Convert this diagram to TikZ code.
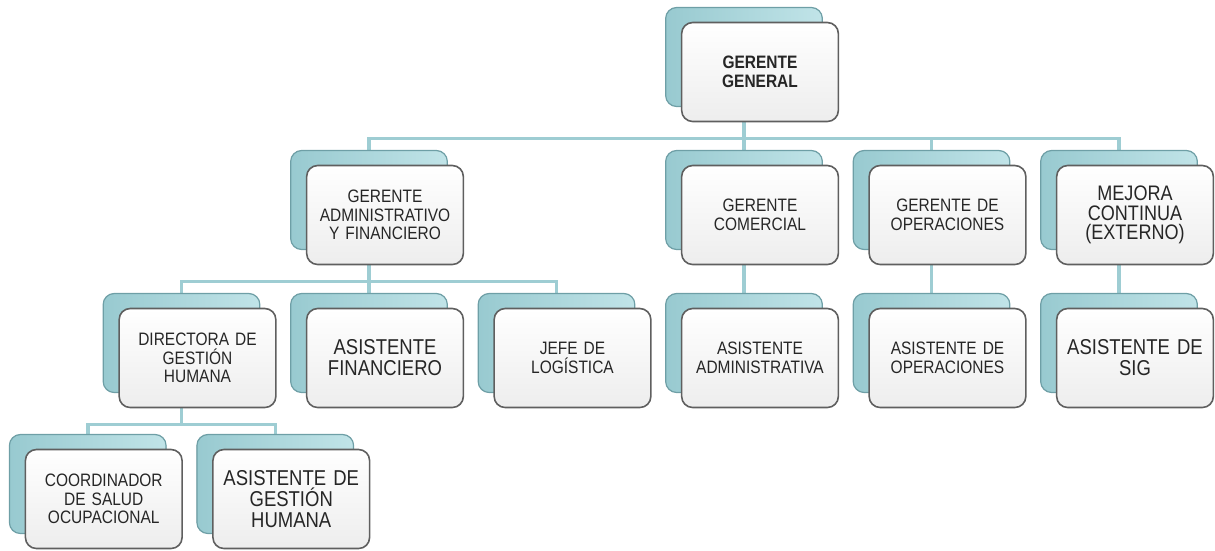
\documentclass[tikz,border=0pt]{standalone}
\usepackage{fontspec}
\setmainfont{Liberation Sans}
\newfontfamily\estrecha[FakeStretch=0.86]{Liberation Sans}
\usetikzlibrary{shadows, backgrounds}

\definecolor{fondoteal}{RGB}{166,216,222}
\definecolor{bordeteal}{RGB}{110,159,166}
\definecolor{lineateal}{RGB}{158,205,211}
\definecolor{bordecaja}{RGB}{95,95,95}

\tikzset{
  cargo/.style={rectangle, rounded corners=11pt, minimum width=155pt, minimum height=99pt,
    text width=150pt, align=center, draw=bordecaja, line width=1.6pt,
    top color=white, bottom color=gray!14, text=black!85,
    font=\estrecha\fontsize{18}{18.5}\selectfont,
    copy shadow={shadow xshift=-16pt, shadow yshift=15pt, draw=bordeteal, line width=1.2pt,
      left color=fondoteal!75!bordeteal, right color=fondoteal!70!white}},
  grande/.style={font=\estrecha\fontsize{21.5}{21}\selectfont},
  enlace/.style={draw=lineateal, line width=3.5pt},
}

\begin{document}
\begin{tikzpicture}[x=1pt, y=1pt]
  \useasboundingbox (0,0) rectangle (1215,-550);

  % nivel 1 y 2
  \node[cargo, font=\estrecha\fontsize{18}{18.5}\selectfont\bfseries] (gg) at (760,-72) {GERENTE\\GENERAL};
  \node[cargo] (adm) at (385,-215) {GERENTE\\ADMINISTRATIVO\\Y FINANCIERO};
  \node[cargo] (com) at (760,-215) {GERENTE\\COMERCIAL};
  \node[cargo] (ope) at (947.5,-215) {GERENTE DE\\OPERACIONES};
  \node[cargo, font=\estrecha\fontsize{21}{19.5}\selectfont] (mej) at (1135,-215) {MEJORA\\CONTINUA\\(EXTERNO)};

  % nivel 3
  \node[cargo] (dir) at (197.5,-358) {DIRECTORA DE\\GESTIÓN\\HUMANA};
  \node[cargo, grande] (fin) at (385,-358) {ASISTENTE\\FINANCIERO};
  \node[cargo] (log) at (572.5,-358) {JEFE DE\\LOGÍSTICA};
  \node[cargo] (asad) at (760,-358) {ASISTENTE\\ADMINISTRATIVA};
  \node[cargo] (asop) at (947.5,-358) {ASISTENTE DE\\OPERACIONES};
  \node[cargo, grande] (sig) at (1135,-358) {ASISTENTE DE\\SIG};

  % nivel 4
  \node[cargo] (coo) at (103.75,-499) {COORDINADOR\\DE SALUD\\OCUPACIONAL};
  \node[cargo, grande] (agh) at (291.25,-499) {ASISTENTE DE\\GESTIÓN\\HUMANA};

  \begin{scope}[on background layer]
    \foreach \hijo in {adm, com, ope, mej}
      \draw[enlace] ([xshift=-16pt]gg.south) -- ++(0,-16) -| ([xshift=-16pt]\hijo.north);
    \foreach \hijo in {dir, fin, log}
      \draw[enlace] ([xshift=-16pt]adm.south) -- ++(0,-16) -| ([xshift=-16pt]\hijo.north);
    \foreach \jefe/\hijo in {com/asad, ope/asop, mej/sig}
      \draw[enlace] ([xshift=-16pt]\jefe.south) -- ([xshift=-16pt]\hijo.north);
    \foreach \hijo in {coo, agh}
      \draw[enlace] ([xshift=-16pt]dir.south) -- ++(0,-16) -| ([xshift=-16pt]\hijo.north);
  \end{scope}
\end{tikzpicture}
\end{document}
